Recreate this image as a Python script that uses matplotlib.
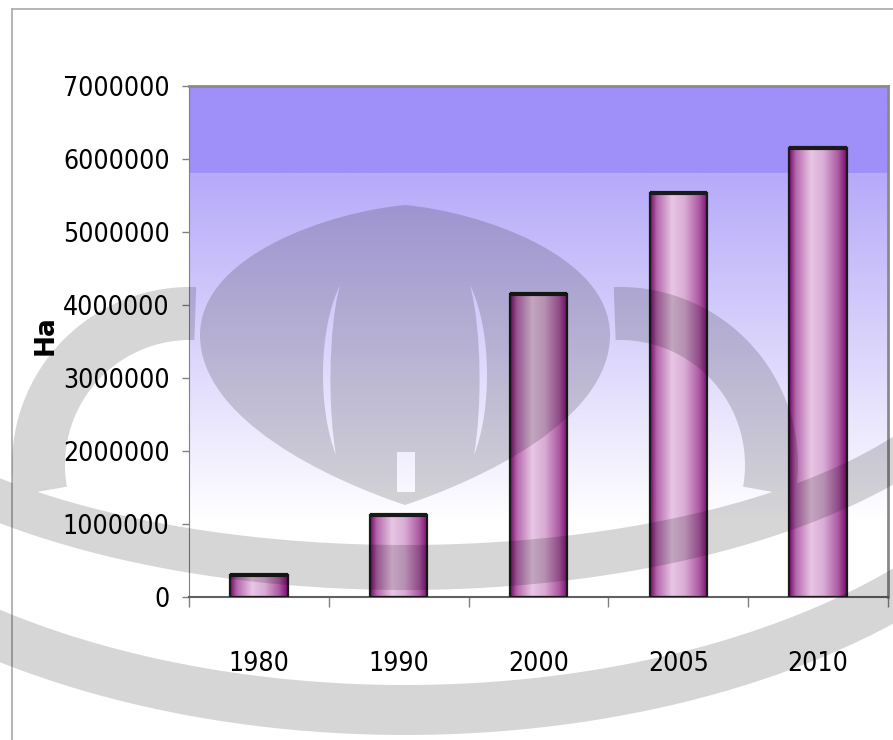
import numpy as np
import matplotlib.pyplot as plt
from matplotlib import font_manager
from matplotlib.colors import LinearSegmentedColormap
from matplotlib.lines import Line2D
from matplotlib.path import Path
from matplotlib.patches import PathPatch

years = ["1980", "1990", "2000", "2005", "2010"]
area_ha = [300000, 1120000, 4150000, 5530000, 6150000]
y_ticks = [0, 1000000, 2000000, 3000000, 4000000, 5000000, 6000000, 7000000]

W, H = 893, 740


def pick_tick_font():
    # tick labels in the original are tall and narrow, so prefer a narrow face
    for f in font_manager.fontManager.ttflist:
        n = f.fname.lower()
        if ("narrow" in n or "condensed" in n) and "sans" in n and not any(
                k in n for k in ["bold", "oblique", "italic", "mono"]):
            return font_manager.FontProperties(fname=f.fname)
    return font_manager.FontProperties(family=["Liberation Sans", "DejaVu Sans"])


def background_image(n=600):
    t = np.linspace(0, 1, n)[:, None]           # 0 = top, 1 = bottom
    top = np.array([159, 143, 248]) / 255
    mid = np.array([182, 170, 249]) / 255
    white = np.array([1.0, 1.0, 1.0])
    frac = np.clip((t - 0.17) / 0.68, 0, 1)
    img = mid + (white - mid) * frac
    img = np.where(t < 0.17, top, img)
    return np.repeat(img[:, None, :], 2, axis=1).reshape(n, 2, 3)


bar_cmap = LinearSegmentedColormap.from_list(
    "bar", [(0.0, "#760868"), (0.12, "#b468ac"), (0.38, "#e8c6e4"),
            (0.6, "#d9acd5"), (0.85, "#ac5aa2"), (1.0, "#7c0a70")])


# ---- watermark helpers (pixel coords, y down) ----
def orient(p, ccw=True):
    x, y = p[:, 0], p[:, 1]
    area = 0.5 * np.sum(x * np.roll(y, -1) - np.roll(x, -1) * y)
    return p if (area > 0) == ccw else p[::-1]


def bezier_poly(verts):
    codes = [Path.MOVETO] + [Path.CURVE4] * (len(verts) - 1)
    return np.array(Path(verts, codes).to_polygons(closed_only=False)[0])


def ring(cx, cy, r_out, r_in, t0, t1, n=90):
    t = np.radians(np.linspace(t0, t1, n))
    outer = np.c_[cx + r_out * np.cos(t), cy + r_out * np.sin(t)]
    inner = np.c_[cx + r_in * np.cos(t[::-1]), cy + r_in * np.sin(t[::-1])]
    return np.vstack([outer, inner])


def ell_band(cx, cy, a_out, b_out, a_in, b_in, n=120):
    t = np.linspace(0.0, np.pi, n)
    outer = np.c_[cx + a_out * np.cos(t), cy + b_out * np.sin(t)]
    inner = np.c_[cx + a_in * np.cos(t[::-1]), cy + b_in * np.sin(t[::-1])]
    return np.vstack([outer, inner])


def draw_watermark(fig):
    wm = fig.add_axes([0, 0, 1, 1], zorder=5)
    wm.set_xlim(0, W)
    wm.set_ylim(H, 0)
    wm.axis("off")

    solids, holes = [], []
    solids.append(bezier_poly([(405, 205), (330, 212), (200, 255), (200, 335),
                               (200, 420), (330, 480), (405, 505),
                               (480, 480), (610, 420), (610, 335),
                               (610, 255), (480, 212), (405, 205)]))
    for side in (-1, 1):
        x0 = 405 + side * 65
        holes.append(bezier_poly([(x0, 285), (x0 + side * 22, 330), (x0 + side * 22, 410),
                                  (x0 + side * 4, 455), (x0 + side * 12, 410),
                                  (x0 + side * 12, 330), (x0, 285)]))
    holes.append(np.array([(397, 452), (397, 492), (415, 492), (415, 452)], float))

    solids.append(ring(190, 465, 178, 125, 170, 272))
    solids.append(ring(620, 465, 178, 125, 268, 370))
    solids.append(ell_band(405, 315, 620, 275, 575, 230))
    solids.append(ell_band(405, 315, 720, 420, 670, 370))

    paths = [Path(np.vstack([p, p[:1]]), closed=True) for p in
             [orient(p, True) for p in solids] + [orient(p, False) for p in holes]]
    wm.add_patch(PathPatch(Path.make_compound_path(*paths), facecolor="black",
                           edgecolor="none", alpha=0.16))


def main():
    fig = plt.figure(figsize=(W / 100, H / 100), dpi=100)
    ax = fig.add_axes([189 / W, 143 / H, 699 / W, 511 / H])

    ax.imshow(background_image(), extent=[0, 1, 0, 1], transform=ax.transAxes,
              aspect="auto", zorder=0)

    x = np.arange(len(years))
    bars = ax.bar(x, area_ha, width=0.41, facecolor="none", edgecolor="#1a1a1a",
                  linewidth=1.6, zorder=3)
    grad = np.linspace(0, 1, 256)[None, :]
    for b in bars:
        im = ax.imshow(grad, cmap=bar_cmap, aspect="auto", zorder=2,
                       extent=[b.get_x(), b.get_x() + b.get_width(), 0, b.get_height()])
        im.set_clip_path(b)
        ax.plot([b.get_x(), b.get_x() + b.get_width()], [b.get_height()] * 2,
                color="#1a1a1a", lw=3, zorder=4, solid_capstyle="butt")

    ax.set_xlim(-0.5, len(years) - 0.5)
    ax.set_ylim(0, 7000000)

    # size the tick font so "7000000" is roughly as wide as in the original
    fp = pick_tick_font()
    fp.set_size(20)
    probe = fig.text(0, 0, "7000000", fontproperties=fp)
    fig.canvas.draw()
    w = probe.get_window_extent().width
    probe.remove()
    fp.set_size(min(24, 20 * 106 / w))

    ax.set_yticks(y_ticks)
    ax.set_yticklabels([str(v) for v in y_ticks], fontproperties=fp)
    ax.tick_params(axis="y", length=5, width=1, color="#808080", pad=9)

    ax.set_xticks(np.arange(len(years) + 1) - 0.5)
    ax.set_xticklabels([])
    ax.tick_params(axis="x", which="major", length=7, width=1, color="#808080")
    ax.set_xticks(x, minor=True)
    ax.set_xticklabels(years, minor=True, fontproperties=fp)
    ax.tick_params(axis="x", which="minor", length=0, pad=39)

    for side in ["top", "right"]:
        ax.spines[side].set_color("#8a8a8a")
        ax.spines[side].set_linewidth(2)
    ax.spines["left"].set_color("#808080")
    ax.spines["bottom"].set_color("#606060")
    ax.spines["bottom"].set_linewidth(1.5)

    fig.text(46 / W, 1 - 335 / H, "Ha", rotation=90, fontsize=19,
             fontweight="bold", ha="center", va="center")

    # outer chart frame (left and top edges visible)
    fig.add_artist(Line2D([11.5 / W, 11.5 / W], [0, 731 / H],
                          transform=fig.transFigure, color="#a8a8a8", lw=1.2))
    fig.add_artist(Line2D([11.5 / W, 1], [731 / H, 731 / H],
                          transform=fig.transFigure, color="#a8a8a8", lw=1.2))

    draw_watermark(fig)

    fig.savefig("out.png", dpi=100)


if __name__ == "__main__":
    main()
